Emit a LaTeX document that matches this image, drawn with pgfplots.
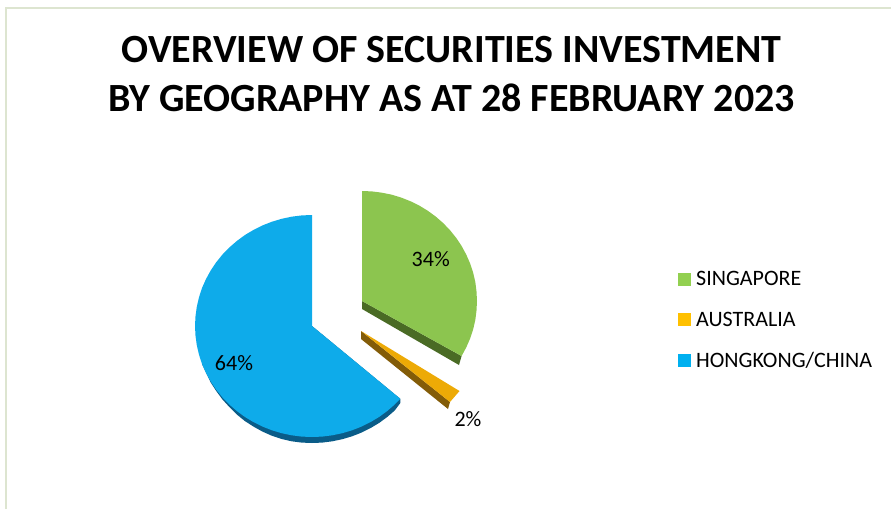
\documentclass[border=0pt]{standalone}
\usepackage{fontspec}
\setmainfont{Carlito}
\usepackage{pgfplots}
\pgfplotsset{compat=1.18}
\definecolor{sgGreen}{HTML}{8CC54F}
\definecolor{sgGreenDark}{HTML}{4A6B25}
\definecolor{auYellow}{HTML}{EDAA06}
\definecolor{auYellowDark}{HTML}{835C08}
\definecolor{hkBlue}{HTML}{0EABEA}
\definecolor{hkBlueDark}{HTML}{0A5C88}
\definecolor{legGreen}{HTML}{92D050}
\definecolor{legYellow}{HTML}{FFC000}
\definecolor{legBlue}{HTML}{00B0F0}
\definecolor{frameLine}{HTML}{DDE5D0}

\begin{document}
\begin{tikzpicture}
\begin{axis}[
  width=891pt, height=509pt, scale only axis,
  xmin=0, xmax=891, ymin=0, ymax=509, y dir=reverse,
  axis line style={draw=none}, ticks=none,
  legend style={at={(axis cs:678,269.5)}, anchor=north west, draw=none, fill=none,
                font=\fontsize{22}{25}\selectfont, row sep=20.6pt, inner sep=0pt},
  legend cell align=left,
  legend image code/.code={\fill[#1] (0pt,-6.5pt) rectangle (13pt,6.5pt); \path (16pt,0pt);},
]
% exploded slices, in picture pixels: side walls first, then the top faces
\addplot[forget plot, fill=sgGreenDark, draw=none] coordinates
  {(362,301) (461.6,356) (459,365) (362,309)} -- cycle;
\addplot[forget plot, fill=auYellowDark, draw=none] coordinates
  {(361,331) (450,402) (448,409) (361,339)} -- cycle;
\addplot[forget plot, fill=hkBlueDark, draw=none] coordinates
  {(202,364) (210.7,382.5) (216.2,391) (222.4,399.4) (229.3,407) (236.8,414.5)
   (244.8,421) (253.5,426.6) (262.5,431.6) (272,435.8) (281.7,439)
   (291.6,441.3) (301.8,442.6) (312,443) (322.2,442.6) (332.3,441.3) (342.3,439.2)
   (352,436.3) (361.5,432.6) (370.5,428.1) (379.2,422.9) (387.2,417) (394.7,410.5)
   (400.3,403) (400.3,398.8) (312,326)} -- cycle;

\addplot[forget plot, fill=sgGreen, draw=none] coordinates
  {(362,301) (362,191) (372,191.4) (382,192.7) (391.8,194.7) (401.3,197.6) (410.6,201.3)
   (419.5,205.7) (428,210.9) (435.9,216.7) (443.3,223.2) (450.1,230.3) (456.2,237.9)
   (461.6,246) (466.2,254.5) (470.1,263.4) (473.1,272.5) (475.3,281.9) (476.5,291.4)
   (477,301) (476.5,310.6) (475.3,320.1) (473.1,329.5) (470.1,338.6) (466.2,347.5)
   (461.6,356)} -- cycle;
\addplot[forget plot, fill=auYellow, draw=none] coordinates
  {(361,331) (459.5,391) (450,402)} -- cycle;
\addplot[forget plot, fill=hkBlue, draw=none] coordinates
  {(312,326) (312,215) (301.8,215.4) (291.6,216.7) (281.7,218.8) (272,221.7) (262.5,225.4)
   (253.5,229.9) (244.8,235.1) (236.8,241) (229.3,247.5) (222.4,254.6) (216.2,262.3)
   (210.7,270.5) (206,279) (202,288) (199,297.3) (196.8,306.7) (195.5,316.3) (195,326)
   (195.5,335.7) (196.8,345.3) (199,354.7) (202,364) (206,373) (210.7,381.5) (216.2,389.7)
   (222.4,397.4) (229.3,404.5) (236.8,411) (244.8,416.9) (253.5,422.1) (262.5,426.6)
   (272,430.3) (281.7,433.2) (291.6,435.3) (301.8,436.6) (312,437) (322.2,436.6)
   (332.3,435.3) (342.3,433.2) (352,430.3) (361.5,426.6) (370.5,422.1) (379.2,416.9)
   (387.2,411) (394.7,404.5) (400.3,398.8)} -- cycle;

% page frame
\addplot[forget plot, color=frameLine, line width=1.5pt] coordinates
  {(6,509) (6,8) (891,8)};

\addlegendimage{fill=legGreen, draw=none}
\addlegendimage{fill=legYellow, draw=none}
\addlegendimage{fill=legBlue, draw=none}
\legend{SINGAPORE, AUSTRALIA, HONGKONG/CHINA}

\node[anchor=base, font=\fontsize{40}{44}\selectfont\bfseries] at (axis cs:451.5,62.5) {OVERVIEW OF SECURITIES INVESTMENT};
\node[anchor=base, font=\fontsize{40}{44}\selectfont\bfseries] at (axis cs:451.5,111) {BY GEOGRAPHY AS AT 28 FEBRUARY 2023};
\node[font=\fontsize{22}{26}\selectfont] at (axis cs:430.7,259.5) {34\%};
\node[font=\fontsize{22}{26}\selectfont] at (axis cs:234,363) {64\%};
\node[font=\fontsize{22}{26}\selectfont] at (axis cs:468,419.5) {2\%};
\end{axis}
\end{tikzpicture}
\end{document}
